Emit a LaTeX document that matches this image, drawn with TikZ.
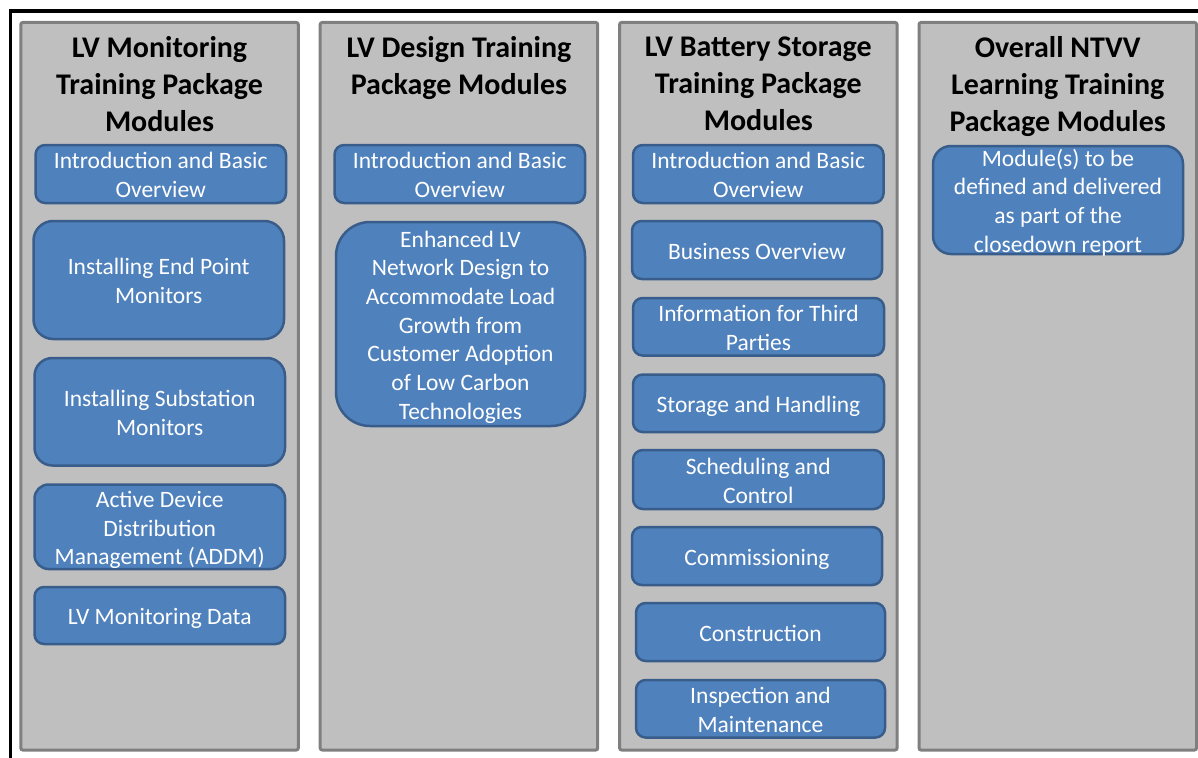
\documentclass[tikz,border=0pt]{standalone}
\usepackage{fontspec}
\setmainfont{Carlito}
\definecolor{colfill}{HTML}{BFBFBF}
\definecolor{colline}{HTML}{7F7F7F}
\definecolor{modfill}{HTML}{4F81BD}
\definecolor{modline}{HTML}{385D8A}
\newcommand\bodyfnt{\fontsize{23.5}{28.7}\selectfont}
\newcommand\hdrfnt{\bfseries\fontsize{30}{37}\selectfont}
\newcommand\bsttop{\rule{0pt}{25.5pt}}
\newcommand\bstbot{\rule[-7pt]{0pt}{7pt}}
\newcommand\hst{\rule[-8.8pt]{0pt}{37pt}}
\tikzset{
  colbox/.style={draw=colline, line width=3pt, fill=colfill, rounded corners=2pt},
  modbox/.style={draw=modline, line width=2.5pt, fill=modfill, inner sep=0pt},
  modtext/.style={text=white, align=center, font=\bodyfnt, inner sep=0pt},
  hdrbox/.style={font=\hdrfnt, align=center, anchor=north, inner sep=0pt,
    execute at begin node=\hst, execute at end node=\hst},
  frame/.style={draw=black, line width=3.5pt}
}
% #1 name, #2 x1, #3 y1, #4 x2, #5 y2, #6 text
\newcommand\modnode[6]{%
  \pgfmathsetmacro\mw{#4-#2}%
  \pgfmathsetmacro\mh{#5-#3}%
  \pgfmathsetmacro\mr{(#5-#3)/6}%
  \pgfmathsetmacro\mx{(#2+#4)/2}%
  \pgfmathsetmacro\my{(#3+#5)/2}%
  \node[modbox, minimum width=\mw pt, minimum height=\mh pt, rounded corners=\mr pt] (#1) at (\mx,\my) {};%
  \node[modtext] (#1-t) at (#1.center) {\bsttop#6\bstbot};%
}
% #1 name, #2 x-left
\newcommand\colnode[2]{%
  \pgfmathsetmacro\cx{#2+138.75}%
  \node[colbox, minimum width=277.5pt, minimum height=727.5pt] (#1) at (\cx,386.25) {};%
}
\begin{document}
\begin{tikzpicture}[x=1pt,y=-1pt]
\useasboundingbox (0,0) rectangle (1198,757);
\draw[frame] (10.5,11) rectangle (1230,790);
\colnode{c1}{20.8}
\colnode{c2}{320.2}
\colnode{c3}{619.6}
\colnode{c4}{919}
\node[hdrbox] (h1) at (159.5,36.5) {LV Monitoring\\Training Package\\Modules};
\node[hdrbox] (h2) at (459,36.5) {LV Design Training\\Package Modules};
\node[hdrbox] (h3) at (758.3,36.5) {LV Battery Storage\\Training Package\\Modules};
\node[hdrbox] (h4) at (1057.7,36.5) {Overall NTVV\\Learning Training\\Package Modules};
% column 1
\modnode{a1}{35.5}{145}{286}{203}{Introduction and Basic\\Overview}
\modnode{a2}{33.5}{221}{284}{339}{Installing End Point\\Monitors}
\modnode{a3}{34.5}{358}{285}{465.5}{Installing Substation\\Monitors}
\modnode{a4}{34.5}{484.5}{285}{569}{Active Device\\Distribution\\Management (ADDM)}
\modnode{a5}{34.5}{587}{285}{644}{LV Monitoring Data}
% column 2
\modnode{b1}{334.5}{145}{585}{203}{Introduction and Basic\\Overview}
\modnode{b2}{336}{222}{585}{426}{Enhanced LV\\Network Design to\\Accommodate Load\\Growth from\\Customer Adoption\\of Low Carbon\\Technologies}
% column 3
\modnode{d1}{633}{145}{883.5}{203}{Introduction and Basic\\Overview}
\modnode{d2}{632}{221}{882}{279}{Business Overview}
\modnode{d3}{633}{298}{884}{355.5}{Information for Third\\Parties}
\modnode{d4}{633}{374.5}{884}{432}{Storage and Handling}
\modnode{d5}{633}{450}{883.5}{509}{Scheduling and\\Control}
\modnode{d6}{632}{527}{882}{585}{Commissioning}
\modnode{d7}{636}{603}{885}{661}{Construction}
\modnode{d8}{636}{680}{885}{737.5}{Inspection and\\Maintenance}
% column 4
\modnode{e1}{933}{146}{1183}{254}{Module(s) to be\\defined and delivered\\as part of the\\closedown report}
\end{tikzpicture}
\end{document}
